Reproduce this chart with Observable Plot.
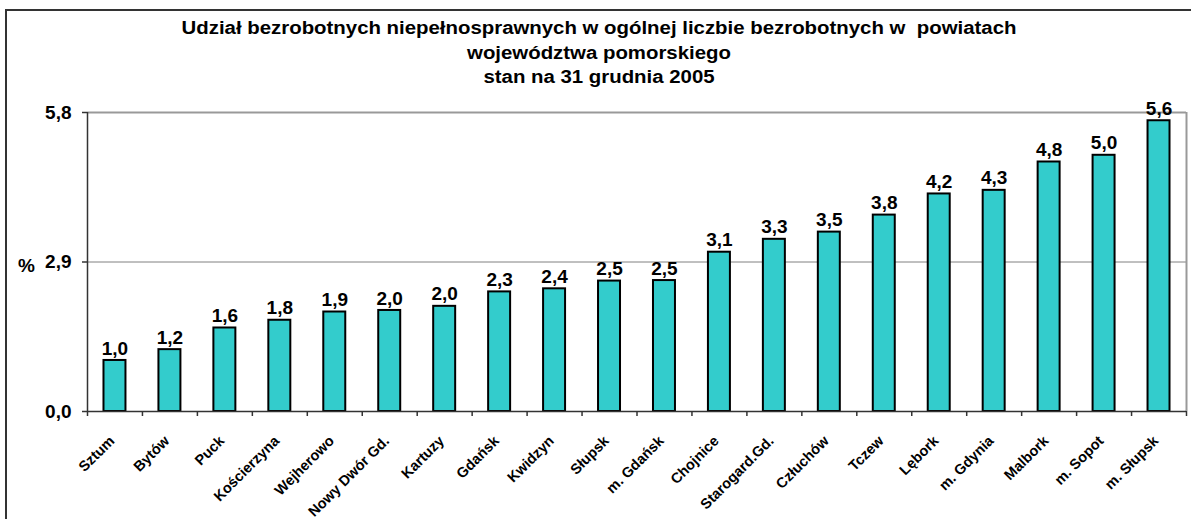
<!DOCTYPE html>
<html>
<head>
<meta charset="utf-8">
<script src="https://cdn.jsdelivr.net/npm/d3@7"></script>
<script src="https://cdn.jsdelivr.net/npm/@observablehq/plot@0.6"></script>
<style>
  html, body { margin: 0; padding: 0; background: #fff; }
  #wrap { position: relative; width: 1191px; height: 519px; overflow: hidden; font-family: "Liberation Sans", Arial, sans-serif; }
  #frame { position: absolute; left: 5px; top: 9px; width: 1300px; height: 600px; border-left: 2px solid #333; border-top: 2px solid #333; box-sizing: border-box; }
  #title { position: absolute; left: 0; width: 1198px; top: 16px; text-align: center; font-weight: bold; font-size: 17.5px; line-height: 24.5px; color: #000; transform: scaleX(1.165); transform-origin: 599px 0; }
  #chart { position: absolute; left: 0; top: 0; }
</style>
</head>
<body>
<div id="wrap">
  <div id="frame"></div>
  <div id="chart"></div>
  <div id="title">Udział bezrobotnych niepełnosprawnych w ogólnej liczbie bezrobotnych w&nbsp; powiatach<br>województwa pomorskiego<br>stan na 31 grudnia 2005</div>
</div>
<script>
const categories = ["Sztum", "Bytów", "Puck", "Kościerzyna", "Wejherowo", "Nowy Dwór Gd.", "Kartuzy", "Gdańsk", "Kwidzyn", "Słupsk", "m. Gdańsk", "Chojnice", "Starogard.Gd.", "Człuchów", "Tczew", "Lębork", "m. Gdynia", "Malbork", "m. Sopot", "m. Słupsk"];
const values = [0.99, 1.20, 1.62, 1.77, 1.93, 1.96, 2.04, 2.32, 2.38, 2.53, 2.54, 3.09, 3.34, 3.48, 3.81, 4.22, 4.29, 4.84, 4.97, 5.64];
const yTicks = [0, 2.9, 5.8];
const unitLabel = "%";

const data = categories.map((name, i) => ({name, i, value: values[i]}));
const fmt = v => v.toFixed(1).replace(".", ",");

const chart = Plot.plot({
  width: 1191,
  height: 519,
  marginTop: 112,
  marginBottom: 108,
  marginLeft: 87,
  marginRight: 5,
  style: {fontFamily: "'Liberation Sans', Arial, sans-serif", background: "transparent", color: "#000"},
  x: {domain: [0, categories.length], axis: null},
  y: {domain: [0, 5.8], axis: null},
  marks: [
    Plot.ruleY([2.9], {stroke: "#808080", strokeWidth: 1}),
    Plot.ruleY([5.8], {stroke: "#999999", strokeWidth: 2}),
    Plot.ruleX([categories.length], {stroke: "#999999", strokeWidth: 2}),
    Plot.rectY(data, {x1: d => d.i + 0.3, x2: d => d.i + 0.7, y1: 0, y2: "value", fill: "#33CCCC", stroke: "#000", strokeWidth: 2}),
    Plot.ruleX([0], {stroke: "#333", strokeWidth: 1.5}),
    Plot.ruleY([0], {stroke: "#333", strokeWidth: 1.5}),
    Plot.axisX({ticks: d3.range(0, categories.length + 1), tickFormat: () => "", tickSize: 5, stroke: "#333", strokeWidth: 1.5}),
    Plot.axisY({ticks: yTicks, tickFormat: fmt, tickSize: 5, tickPadding: 11, fontSize: 19, fontWeight: "bold", stroke: "#333", strokeWidth: 1.5, label: null}),
    Plot.text([unitLabel], {frameAnchor: "left", y: 2.9, dx: -61, dy: 4, text: d => d, fontSize: 19, fontWeight: "bold", textAnchor: "middle", fill: "#000"}),
    Plot.text(data, {x: d => d.i + 0.5, y: "value", text: d => fmt(d.value), dy: -12, lineAnchor: "middle", fontSize: 19, fontWeight: "bold", fill: "#000"}),
    Plot.text(data, {x: d => d.i + 0.5, frameAnchor: "bottom", text: "name", rotate: -45, textAnchor: "end", lineAnchor: "middle", dx: -3, dy: 27, fontSize: 14.5, fontWeight: "bold", fill: "#000"})
  ]
});
document.getElementById("chart").appendChild(chart);
</script>
</body>
</html>
